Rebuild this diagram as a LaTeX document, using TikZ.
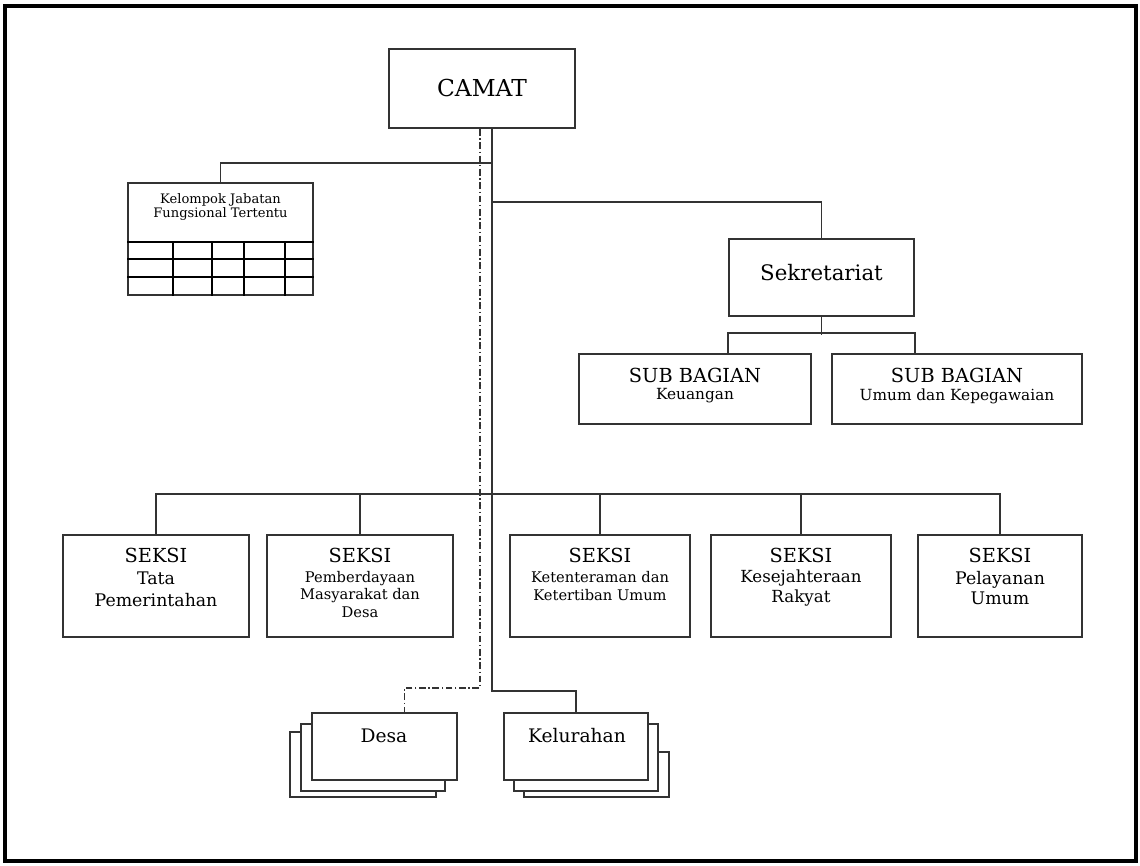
\documentclass[tikz,border=0pt]{standalone}
\usepackage{fontspec}
\setmainfont{DejaVu Serif}
\usetikzlibrary{calc}
\newcommand\fsz[2]{\fontsize{#1pt}{#2pt}\selectfont}
\begin{document}
\begin{tikzpicture}[x=0.75pt,y=-0.75pt,
 box/.style={draw=black!80, line width=1.4pt, fill=white, inner sep=0pt},
 sz/.style 2 args={minimum width=#1*0.75pt, minimum height=#2*0.75pt},
 ln/.style={draw=black!80, line width=1.1pt},
 dd/.style={draw=black!80, line width=1.1pt, dash pattern=on 5pt off 2pt on 1pt off 2pt},
 txt/.style={inner sep=0pt, align=center, text=black},
]
\useasboundingbox (0,0) rectangle (1140,865);
\draw[line width=3pt] (5,6) rectangle (1136,861);

% boxes
\node[box,sz={186}{79},font=\fsz{17.5}{20}] (camat) at (482,88.5) {CAMAT};
\node[box,sz={185}{112}] (kjf) at (220.5,239) {};
\node[box,sz={185}{77}] (sek) at (821.5,277.5) {};
\node[box,sz={232}{70}] (sb1) at (695,389) {};
\node[box,sz={250}{70}] (sb2) at (957,389) {};
\node[box,sz={186}{102}] (s1) at (156,586) {};
\node[box,sz={186}{102}] (s2) at (360,586) {};
\node[box,sz={180}{102}] (s3) at (600,586) {};
\node[box,sz={180}{102}] (s4) at (801,586) {};
\node[box,sz={164}{102}] (s5) at (1000,586) {};
% stacked boxes
\node[box,sz={146}{65}] (d3) at (363,764.5) {};
\node[box,sz={144}{67}] (d2) at (373,757.5) {};
\node[box,sz={145}{67}] (desa) at (384.5,746.5) {};
\node[box,sz={145}{45}] (k3) at (596.5,774.5) {};
\node[box,sz={144}{67}] (k2) at (586,757.5) {};
\node[box,sz={144}{67}] (kel) at (576,746.5) {};

% table inside kelompok
\foreach \yy in {242,259,277} \draw[line width=1.1pt] (kjf.west |- 0,\yy) -- (kjf.east |- 0,\yy);
\foreach \xx in {173,212,244,285} \draw[line width=1.1pt] (\xx,242) -- (kjf.south -| \xx,0);

% texts
\node[txt,font=\fsz{9.8}{10.8}] (kjft) at (220.5,207) {Kelompok Jabatan\\Fungsional Tertentu};
\node[txt,font=\fsz{16}{19}] (sekt) at (821.5,273) {Sekretariat};
\node[txt,font=\fsz{14.5}{17}] (sb1a) at (695,375) {SUB BAGIAN};
\node[txt,font=\fsz{11.5}{14}] (sb1b) at (695,396) {Keuangan};
\node[txt,font=\fsz{14.5}{17}] (sb2a) at (957,375) {SUB BAGIAN};
\node[txt,font=\fsz{11.5}{14}] (sb2b) at (957,396) {Umum dan Kepegawaian};

\node[txt,font=\fsz{14.5}{17}] (s1a) at (156,555) {SEKSI};
\node[txt,font=\fsz{13}{16.5}] (s1b) at (156,589) {Tata\\Pemerintahan};
\node[txt,font=\fsz{14.5}{17}] (s2a) at (360,555) {SEKSI};
\node[txt,font=\fsz{11}{13}] (s2b) at (360,594.5) {Pemberdayaan\\Masyarakat dan\\Desa};
\node[txt,font=\fsz{14.5}{17}] (s3a) at (600,555) {SEKSI};
\node[txt,font=\fsz{11}{13.5}] (s3b) at (600,586) {Ketenteraman dan\\Ketertiban Umum};
\node[txt,font=\fsz{14.5}{17}] (s4a) at (801,555) {SEKSI};
\node[txt,font=\fsz{12.5}{15}] (s4b) at (801,588) {Kesejahteraan\\Rakyat};
\node[txt,font=\fsz{14.5}{17}] (s5a) at (1000,555) {SEKSI};
\node[txt,font=\fsz{13}{15}] (s5b) at (1000,588) {Pelayanan\\Umum};

\node[txt,font=\fsz{14}{17}] (desat) at (384,736) {Desa};
\node[txt,font=\fsz{14}{17}] (kelt) at (577,736) {Kelurahan};

% connectors
\draw[ln] ($(camat.south)+(10,0)$) |- ($(kel.north)+(0,-21)$) -- (kel.north);
\draw[dd] ($(camat.south)+(-2,0)$) |- ($(desa.north)+(20,-24)$) -- ($(desa.north)+(20,0)$);
\draw[ln] ($(camat.south)+(10,34)$) -| (kjf.north);
\draw[ln] ($(camat.south)+(10,73)$) -| (sek.north);
\draw[ln] (sek.south) -- ++(0,18);
\draw[ln] (sek.south west |- sb1.north) -- ++(0,-20) -| (sek.south east |- sb2.north);
\draw[ln] (s1.north) -- ++(0,-40) -| (s5.north);
\foreach \s in {s2,s3,s4} \draw[ln] (\s.north) -- ++(0,-40);
\end{tikzpicture}
\end{document}
